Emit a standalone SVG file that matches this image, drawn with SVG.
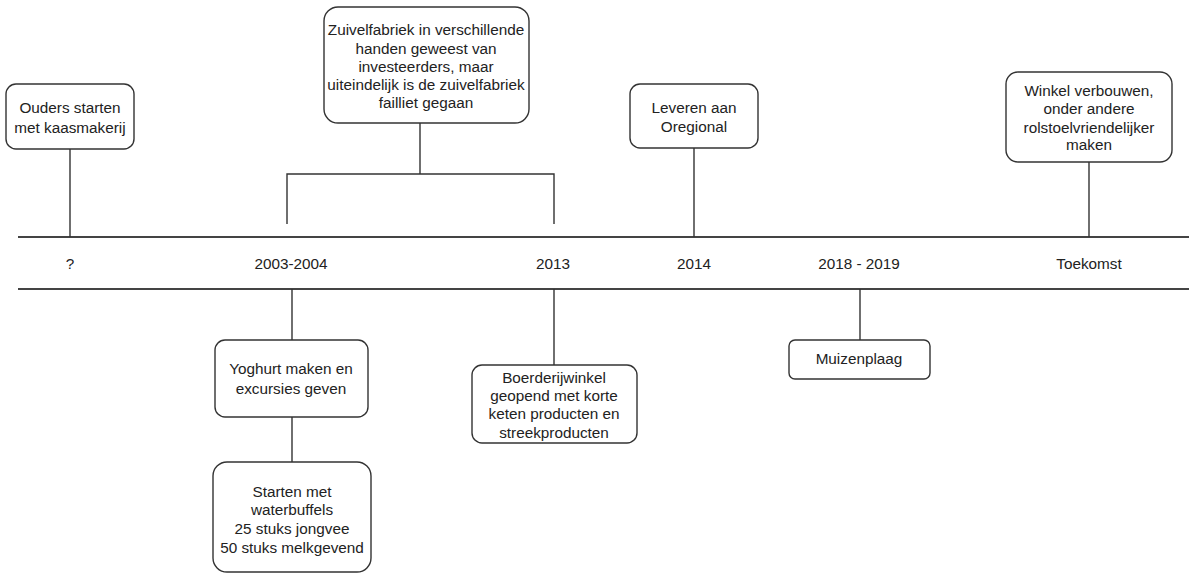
<svg xmlns="http://www.w3.org/2000/svg" width="1189" height="574" viewBox="0 0 1189 574">
<style>
.box{fill:#fff;stroke:#333;stroke-width:1.4}
.ln{fill:none;stroke:#333;stroke-width:1.4}
.tl{fill:none;stroke:#444;stroke-width:2}
text{font-family:"Liberation Sans",Arial,sans-serif;font-size:15.3px;fill:#222;text-anchor:middle;dominant-baseline:central}
</style>
<rect width="1189" height="574" fill="#fff"/>
<g id="connectors">
<line class="tl" x1="18" y1="237" x2="1189" y2="237"/>
<line class="tl" x1="18" y1="289" x2="1189" y2="289"/>
<line class="ln" x1="70" y1="149" x2="70" y2="237"/>
<line class="ln" x1="420" y1="123" x2="420" y2="174"/>
<polyline class="ln" points="287,224 287,174 554,174 554,224"/>
<line class="ln" x1="694" y1="148" x2="694" y2="237"/>
<line class="ln" x1="1089" y1="162" x2="1089" y2="237"/>
<line class="ln" x1="292" y1="289" x2="292" y2="340"/>
<line class="ln" x1="292" y1="417" x2="292" y2="462"/>
<line class="ln" x1="554" y1="289" x2="554" y2="365"/>
<line class="ln" x1="860" y1="289" x2="860" y2="340"/>
</g>
<g id="labels">
<text x="70" y="263">?</text>
<text x="291" y="263">2003-2004</text>
<text x="553" y="263">2013</text>
<text x="694" y="263">2014</text>
<text x="859" y="263">2018 - 2019</text>
<text x="1089" y="263">Toekomst</text>
</g>
<g id="n-ouders">
<rect class="box" x="6" y="84" width="128" height="65" rx="10"/>
<text x="70" y="107">Ouders starten</text>
<text x="70" y="127">met kaasmakerij</text>
</g>
<g id="n-zuivel">
<rect class="box" x="324" y="7" width="205" height="116" rx="14"/>
<text x="426" y="29">Zuivelfabriek in verschillende</text>
<text x="426" y="48">handen geweest van</text>
<text x="426" y="66">investeerders, maar</text>
<text x="426" y="84">uiteindelijk is de zuivelfabriek</text>
<text x="426" y="102">failliet gegaan</text>
</g>
<g id="n-leveren">
<rect class="box" x="630" y="84" width="128" height="64" rx="10"/>
<text x="694" y="107">Leveren aan</text>
<text x="694" y="126">Oregional</text>
</g>
<g id="n-winkel">
<rect class="box" x="1006" y="72" width="166" height="90" rx="12"/>
<text x="1089" y="90">Winkel verbouwen,</text>
<text x="1089" y="108">onder andere</text>
<text x="1089" y="127">rolstoelvriendelijker</text>
<text x="1089" y="144">maken</text>
</g>
<g id="n-yoghurt">
<rect class="box" x="215" y="340" width="153" height="77" rx="10"/>
<text x="291" y="368">Yoghurt maken en</text>
<text x="291" y="388">excursies geven</text>
</g>
<g id="n-starten">
<rect class="box" x="213" y="462" width="158" height="110" rx="14"/>
<text x="292" y="491">Starten met</text>
<text x="292" y="509">waterbuffels</text>
<text x="292" y="528">25 stuks jongvee</text>
<text x="292" y="547">50 stuks melkgevend</text>
</g>
<g id="n-boerderij">
<rect class="box" x="472" y="365" width="165" height="78" rx="10"/>
<text x="554" y="377">Boerderijwinkel</text>
<text x="554" y="395">geopend met korte</text>
<text x="554" y="413">keten producten en</text>
<text x="554" y="432">streekproducten</text>
</g>
<g id="n-muizen">
<rect class="box" x="789" y="340" width="141" height="39" rx="6"/>
<text x="859" y="358">Muizenplaag</text>
</g>
</svg>
